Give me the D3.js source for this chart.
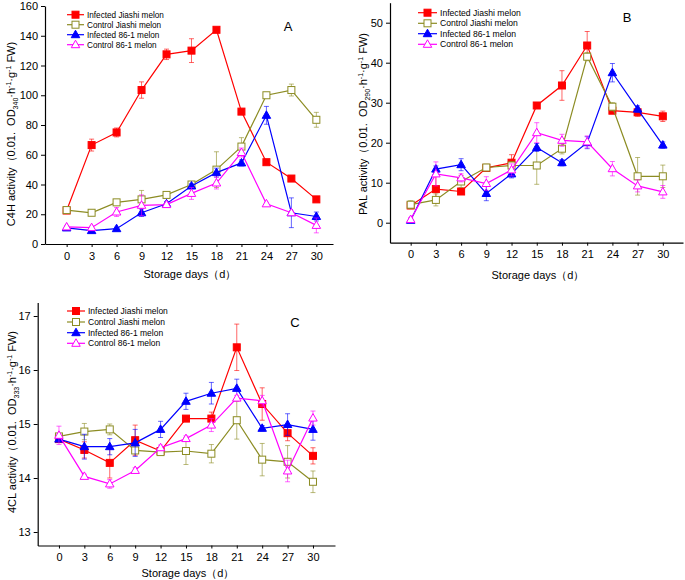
<!DOCTYPE html>
<html><head><meta charset="utf-8">
<script src="https://cdn.jsdelivr.net/npm/d3@7"></script>
<style>
body{margin:0;background:#fff}
svg{display:block}
text{font-family:"Liberation Sans",Arial,sans-serif;fill:#000}
</style>
</head><body>
<svg id="chart" width="685" height="580"></svg>
<script>
const days = [0, 3, 6, 9, 12, 15, 18, 21, 24, 27, 30];
const seriesNames = ["Infected Jiashi melon", "Control Jiashi melon", "Infected 86-1 melon", "Control 86-1 melon"];
const seriesColors = ["#ff0000", "#8c8c23", "#0000ff", "#ff00ff"];
const seriesMarkers = ["squareFilled", "squareOpen", "triFilled", "triOpen"];

// Panel A: C4H
const c4hInfJiashi = [22.5, 66.5, 75, 103.5, 127.5, 130, 144, 89, 55, 44, 30];
const c4hInfJiashiErr = [1, 4, 3, 5.5, 3.5, 8, 0.5, 1.5, 1, 1, 1];
const c4hCtrlJiashi = [22.8, 21, 28, 30, 33, 40, 50, 65.5, 100, 103.5, 83.5];
const c4hCtrlJiashiErr = [1, 1, 1.5, 6, 1, 1, 12, 6, 1, 4, 5];
const c4hInf861 = [10.8, 9, 10.3, 21, 27, 39, 48, 54.5, 86.5, 21, 18.5];
const c4hInf861Err = [1, 1.5, 1, 2.5, 1.5, 1.5, 3, 2, 6, 10, 3];
const c4hCtrl861 = [11.5, 11, 21.5, 26, 26.5, 34, 41, 61.5, 27, 21, 12.5];
const c4hCtrl861Err = [1, 1, 3, 7, 1.5, 4, 4, 3, 1, 1, 5];
const c4hTicks = [0, 20, 40, 60, 80, 100, 120, 140, 160];

// Panel B: PAL
const palInfJiashi = [4.3, 8.4, 7.8, 13.7, 15, 29.3, 34.3, 44.3, 28, 27.6, 26.6];
const palInfJiashiErr = [0.5, 3.5, 0.5, 0.5, 2, 0.5, 3.7, 3.5, 0.5, 1, 1.3];
const palCtrlJiashi = [4.5, 5.7, 10.3, 13.8, 14.3, 14.3, 18.5, 41.5, 29, 11.6, 11.6];
const palCtrlJiashiErr = [1, 1.5, 1.5, 0.8, 1, 4.7, 1.3, 1, 1, 4.7, 2.8];
const palInf861 = [0.6, 13.4, 14.5, 7.3, 12.2, 18.8, 15, 20, 37.5, 28.4, 19.4];
const palInf861Err = [0.3, 0.8, 1.5, 1.8, 1, 1, 0.8, 1.5, 2.3, 0.8, 0.8];
const palCtrl861 = [0.8, 12.2, 11.2, 9.8, 13.2, 22.5, 20.6, 20.2, 13.5, 9.2, 7.7];
const palCtrl861Err = [0.5, 3, 1, 1.7, 1.5, 2.5, 1.5, 1.5, 1.8, 1.5, 1.6];
const palTicks = [0, 10, 20, 30, 40, 50];

// Panel C: 4CL
const clInfJiashi = [14.72, 14.52, 14.28, 14.7, 14.5, 15.1, 15.1, 16.42, 15.37, 14.83, 14.41];
const clInfJiashiErr = [0.05, 0.15, 0.28, 0.28, 0.05, 0.05, 0.12, 0.43, 0.3, 0.14, 0.15];
const clCtrlJiashi = [14.77, 14.86, 14.9, 14.51, 14.48, 14.5, 14.45, 15.07, 14.34, 14.3, 13.93];
const clCtrlJiashiErr = [0.05, 0.15, 0.1, 0.05, 0.04, 0.25, 0.17, 0.35, 0.3, 0.3, 0.2];
const clInf861 = [14.72, 14.58, 14.58, 14.65, 14.9, 15.42, 15.57, 15.66, 14.92, 14.99, 14.9];
const clInf861Err = [0.04, 0.23, 0.15, 0.25, 0.15, 0.15, 0.2, 0.17, 0.05, 0.2, 0.2];
const clCtrl861 = [14.79, 14.03, 13.89, 14.14, 14.56, 14.73, 14.98, 15.48, 15.43, 14.13, 15.11];
const clCtrl861Err = [0.17, 0.04, 0.08, 0.05, 0.05, 0.05, 0.12, 0.05, 0.1, 0.2, 0.13];
const clTicks = [13, 14, 15, 16, 17];

const svg = d3.select("#chart");
svg.append("rect").attr("width", 685).attr("height", 580).attr("fill", "#fff");

const panels = [
  {
    letter: "A", letterPos: [288, 31],
    xDomain: [-2.6, 32], xRange: [45, 333],
    yDomain: [0, 160], yRange: [244, 6], yTicks: c4hTicks,
    series: [[c4hInfJiashi, c4hInfJiashiErr], [c4hCtrlJiashi, c4hCtrlJiashiErr], [c4hInf861, c4hInf861Err], [c4hCtrl861, c4hCtrl861Err]],
    legend: {x0: 67, x1: 84, tx: 87, ys: [14.7, 24.7, 34.7, 44.7], fs: 8.2},
    xlabel: [190, 278], ylabel: {x: 15, y: 134, enzyme: "C4H", od: "340"}
  },
  {
    letter: "B", letterPos: [627, 22],
    xDomain: [-2.46, 32.4], xRange: [390, 683],
    yDomain: [-5, 55], yRange: [242.7, 2.7], yTicks: palTicks,
    series: [[palInfJiashi, palInfJiashiErr], [palCtrlJiashi, palCtrlJiashiErr], [palInf861, palInf861Err], [palCtrl861, palCtrl861Err]],
    legend: {x0: 418, x1: 437, tx: 440, ys: [12.7, 23.3, 33.7, 44.3], fs: 8.6},
    xlabel: [538, 279], ylabel: {x: 367, y: 124, enzyme: "PAL", od: "290"}
  },
  {
    letter: "C", letterPos: [295, 327],
    xDomain: [-2.51, 32.6], xRange: [37.7, 335],
    yDomain: [12.75, 17.25], yRange: [545.5, 302.5], yTicks: clTicks,
    series: [[clInfJiashi, clInfJiashiErr], [clCtrlJiashi, clCtrlJiashiErr], [clInf861, clInf861Err], [clCtrl861, clCtrl861Err]],
    legend: {x0: 67, x1: 85, tx: 88, ys: [311, 322, 332.7, 343.3], fs: 8.5},
    xlabel: [188, 577], ylabel: {x: 16, y: 422, enzyme: "4CL", od: "333"}
  }
];

function drawMarker(g, type, color, x, y) {
  const s = 7;
  if (type.startsWith("square")) {
    g.append("rect").attr("x", x - s / 2).attr("y", y - s / 2).attr("width", s).attr("height", s)
      .attr("fill", type === "squareFilled" ? color : "#fff").attr("stroke", color).attr("stroke-width", 1);
  } else {
    const h = 7.5, w = 8.5;
    g.append("path").attr("d", `M${x},${y - h * 0.6}L${x + w / 2},${y + h * 0.4}L${x - w / 2},${y + h * 0.4}Z`)
      .attr("fill", type === "triFilled" ? color : "#fff").attr("stroke", color).attr("stroke-width", 1);
  }
}

panels.forEach(p => {
  const x = d3.scaleLinear().domain(p.xDomain).range(p.xRange);
  const y = d3.scaleLinear().domain(p.yDomain).range(p.yRange);
  const g = svg.append("g");

  const xAxis = g.append("g").attr("transform", `translate(0,${p.yRange[0]})`)
    .call(d3.axisBottom(x).tickValues(days).tickFormat(d3.format("d")).tickSize(3).tickSizeOuter(0).tickPadding(5));
  xAxis.selectAll("text").attr("font-size", 11).attr("font-family", "Liberation Sans, Arial, sans-serif");
  const yAxis = g.append("g").attr("transform", `translate(${p.xRange[0]},0)`)
    .call(d3.axisLeft(y).tickValues(p.yTicks).tickFormat(d3.format("d")).tickSize(4).tickSizeOuter(0).tickPadding(3));
  yAxis.selectAll("text").attr("font-size", 11).attr("font-family", "Liberation Sans, Arial, sans-serif");
  g.selectAll(".domain").attr("stroke", "#000").attr("stroke-width", 1.2);

  p.series.forEach((s, i) => {
    const [vals, errs] = s;
    const color = seriesColors[i];
    const sg = g.append("g");
    vals.forEach((v, j) => {
      const cx = x(days[j]);
      const e = errs[j];
      const eg = sg.append("g").attr("stroke", color).attr("stroke-opacity", 0.6).attr("stroke-width", 1);
      eg.append("line").attr("x1", cx).attr("x2", cx).attr("y1", y(v - e)).attr("y2", y(v + e));
      eg.append("line").attr("x1", cx - 2.5).attr("x2", cx + 2.5).attr("y1", y(v - e)).attr("y2", y(v - e));
      eg.append("line").attr("x1", cx - 2.5).attr("x2", cx + 2.5).attr("y1", y(v + e)).attr("y2", y(v + e));
    });
    const line = d3.line().x((d, j) => x(days[j])).y(d => y(d));
    sg.append("path").datum(vals).attr("d", line).attr("fill", "none").attr("stroke", color).attr("stroke-width", 1.2);
    vals.forEach((v, j) => drawMarker(sg, seriesMarkers[i], color, x(days[j]), y(v)));
  });

  const L = p.legend;
  seriesNames.forEach((name, i) => {
    const lg = g.append("g");
    lg.append("line").attr("x1", L.x0).attr("x2", L.x1).attr("y1", L.ys[i]).attr("y2", L.ys[i])
      .attr("stroke", seriesColors[i]).attr("stroke-width", 1.2);
    drawMarker(lg, seriesMarkers[i], seriesColors[i], (L.x0 + L.x1) / 2, L.ys[i]);
    lg.append("text").attr("x", L.tx).attr("y", L.ys[i]).attr("dy", "0.35em")
      .attr("font-size", L.fs).text(name);
  });

  g.append("text").attr("x", p.letterPos[0]).attr("y", p.letterPos[1]).attr("font-size", 13)
    .attr("text-anchor", "middle").text(p.letter);

  g.append("text").attr("x", p.xlabel[0]).attr("y", p.xlabel[1]).attr("font-size", 11)
    .attr("text-anchor", "middle").text("Storage days（d）");

  const yl = g.append("text").attr("transform", `translate(${p.ylabel.x},${p.ylabel.y}) rotate(-90)`)
    .attr("text-anchor", "middle").attr("font-size", 11).style("white-space", "pre");
  yl.append("tspan").text(p.ylabel.enzyme + " activity（0.01.  OD");
  yl.append("tspan").attr("font-size", 7).attr("dy", 3).text(p.ylabel.od);
  yl.append("tspan").attr("dy", -3).text("·h");
  yl.append("tspan").attr("font-size", 7).attr("dy", -4).text("-1");
  yl.append("tspan").attr("dy", 4).text("·g");
  yl.append("tspan").attr("font-size", 7).attr("dy", -4).text("-1");
  yl.append("tspan").attr("dy", 4).text(" FW)");
});
</script>
</body></html>
